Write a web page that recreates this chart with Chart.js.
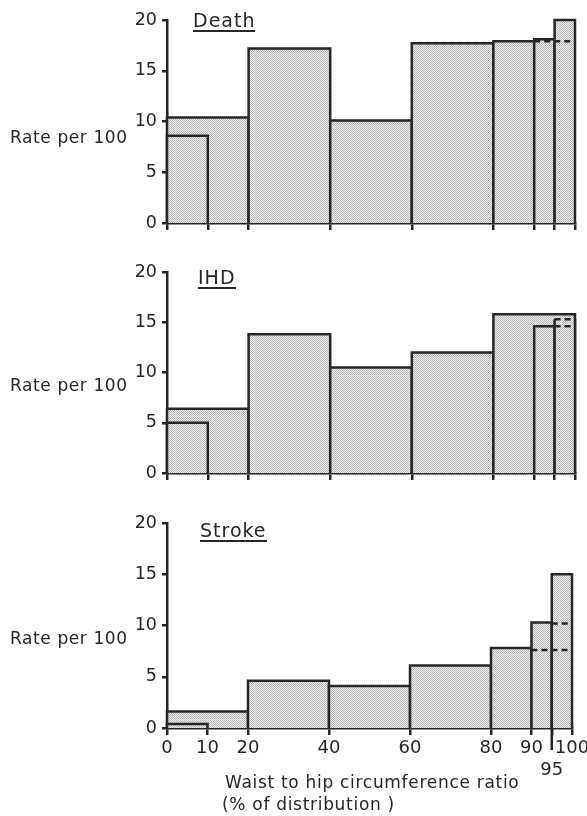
<!DOCTYPE html>
<html>
<head>
<meta charset="utf-8">
<script src="https://cdn.jsdelivr.net/npm/chart.js@4"></script>
<style>
  body { margin: 0; background: #fff; width: 587px; height: 816px; position: relative; overflow: hidden;
         font-family: "DejaVu Sans", sans-serif; color: #262626; }
  canvas { position: absolute; left: 0; }
  .ylab { position: absolute; left: 10px; font-size: 17px; line-height: 20px; letter-spacing: 0.6px; }
  .ttl { position: absolute; font-size: 19px; line-height: 19px; letter-spacing: 1px; border-bottom: 2px solid #262626; }
  .xt { position: absolute; font-size: 17px; line-height: 22px; letter-spacing: 0.7px; white-space: nowrap; }
</style>
</head>
<body>

<canvas id="deathChart" width="587" height="243" style="top:0px"></canvas>
<canvas id="ihdChart" width="587" height="243" style="top:250px"></canvas>
<canvas id="strokeChart" width="587" height="288" style="top:500px"></canvas>

<div class="ylab" style="top:127px">Rate per 100</div>
<div class="ylab" style="top:375px">Rate per 100</div>
<div class="ylab" style="top:628px">Rate per 100</div>

<div class="ttl" style="left:193px; top:11px">Death</div>
<div class="ttl" style="left:198px; top:268px">IHD</div>
<div class="ttl" style="left:200px; top:521px">Stroke</div>

<div class="xt" style="left:225px; top:771px">Waist to hip circumference ratio</div>
<div class="xt" style="left:222px; top:793px">(% of distribution )</div>

<script>
/* ---------- DATA ---------- */
const xTicks = [0, 10, 20, 40, 60, 80, 90, 95, 100];
const yTicks = [0, 5, 10, 15, 20];

// bars: lower edge, upper edge (% of distribution), rate per 100
const deathLo   = [0, 0, 20, 40, 60, 80, 90, 95];
const deathHi   = [20, 10, 40, 60, 80, 90, 95, 100];
const deathRate = [10.4, 8.6, 17.2, 10.1, 17.7, 17.9, 18.1, 20.0];
const deathDashLo = [90];
const deathDashHi = [100];
const deathDash   = [17.9];

const ihdLo   = [0, 0, 20, 40, 60, 80, 90, 95];
const ihdHi   = [20, 10, 40, 60, 80, 100, 95, 100];
const ihdRate = [6.4, 5.0, 13.8, 10.5, 12.0, 15.8, 14.6, 15.3];
const ihdDashLo = [95];
const ihdDashHi = [100];
const ihdDash   = [14.6];
const ihdDashedTop = [7];

const strokeLo   = [0, 0, 20, 40, 60, 80, 90, 95];
const strokeHi   = [20, 10, 40, 60, 80, 90, 95, 100];
const strokeRate = [1.6, 0.4, 4.6, 4.1, 6.1, 7.8, 10.3, 15.0];
const strokeDashLo = [95, 90];
const strokeDashHi = [100, 100];
const strokeDash   = [10.2, 7.6];

/* ---------- STYLE ---------- */
const INK = "#262626";
const TXT = "#262626";
const FONT = "DejaVu Sans";
const LW = 2.5;

// stipple fill, like the printed dot screen
function dotPattern() {
  const c = document.createElement("canvas");
  c.width = 2; c.height = 2;
  const g = c.getContext("2d");
  g.fillStyle = "#f3f3f3";
  g.fillRect(0, 0, 2, 2);
  g.fillStyle = "#b6b6b6";
  g.fillRect(0, 0, 1, 1);
  g.fillRect(1, 1, 1, 1);
  return g.createPattern(c, "repeat");
}
const dots = dotPattern();

// the 95 tick on the bottom panel runs down past the others
const longTick = {
  id: "longTick",
  afterDraw(chart) {
    const ctx = chart.ctx;
    const x = chart.scales.x.getPixelForValue(95);
    const y = chart.scales.y.getPixelForValue(0);
    ctx.save();
    ctx.strokeStyle = INK;
    ctx.lineWidth = LW;
    ctx.beginPath();
    ctx.moveTo(x, y);
    ctx.lineTo(x, y + 22);
    ctx.stroke();
    ctx.restore();
  }
};

function makePanel(id, p) {
  const bars = p.lo.map((l, i) => ({
    data: [
      { x: l, y: 0 }, { x: l, y: p.rate[i] },
      { x: p.hi[i], y: p.rate[i] }, { x: p.hi[i], y: 0 }
    ],
    borderColor: INK,
    borderWidth: LW,
    borderJoinStyle: "miter",
    backgroundColor: dots,
    fill: "origin",
    pointRadius: 0,
    tension: 0,
    clip: false,
    order: -i,
    segment: {
      borderDash: c => ((p.dashedTop || []).includes(i) && c.p0DataIndex === 1) ? [6, 4] : undefined
    }
  }));

  const dashes = p.dLo.map((l, i) => ({
    data: [{ x: l, y: p.dRate[i] }, { x: p.dHi[i], y: p.dRate[i] }],
    borderColor: INK,
    borderWidth: LW,
    borderDash: [6, 4],
    fill: false,
    pointRadius: 0,
    clip: false,
    order: -100 - i
  }));

  return new Chart(document.getElementById(id), {
    type: "line",
    data: { datasets: bars.concat(dashes) },
    plugins: p.labels ? [longTick] : [],
    options: {
      responsive: false,
      animation: false,
      layout: { padding: { left: 0, right: 587 - p.right, top: p.padTop, bottom: 0 } },
      plugins: { legend: { display: false }, tooltip: { enabled: false } },
      scales: {
        x: {
          type: "linear",
          min: 0,
          max: 100,
          afterBuildTicks: s => { s.ticks = xTicks.map(v => ({ value: v })); },
          afterFit: s => { s.height = p.axisH; s.paddingLeft = 0; s.paddingRight = 0; },
          border: { display: true, color: INK, width: LW },
          grid: { display: true, drawOnChartArea: false, tickLength: 7, color: INK, lineWidth: LW },
          ticks: {
            display: p.labels,
            autoSkip: false,
            maxRotation: 0,
            padding: 3,
            color: TXT,
            font: { family: FONT, size: 18 },
            callback: v => (v === 95 ? ["", "95"] : String(v))
          }
        },
        y: {
          min: 0,
          max: 20,
          afterBuildTicks: s => { s.ticks = yTicks.map(v => ({ value: v })); },
          afterFit: s => { s.width = 167; s.paddingTop = 0; s.paddingBottom = 0; },
          border: { display: true, color: INK, width: LW },
          grid: { display: true, drawOnChartArea: false, tickLength: 5, color: INK, lineWidth: LW },
          ticks: { padding: 5, color: TXT, font: { family: FONT, size: 17.5 } }
        }
      }
    }
  });
}

makePanel("deathChart", {
  lo: deathLo, hi: deathHi, rate: deathRate,
  dLo: deathDashLo, dHi: deathDashHi, dRate: deathDash,
  padTop: 20, axisH: 20, right: 575, labels: false
});
makePanel("ihdChart", {
  lo: ihdLo, hi: ihdHi, rate: ihdRate,
  dLo: ihdDashLo, dHi: ihdDashHi, dRate: ihdDash, dashedTop: ihdDashedTop,
  padTop: 22, axisH: 20, right: 575, labels: false
});
makePanel("strokeChart", {
  lo: strokeLo, hi: strokeHi, rate: strokeRate,
  dLo: strokeDashLo, dHi: strokeDashHi, dRate: strokeDash,
  padTop: 23, axisH: 60, right: 572, labels: true
});
</script>
</body>
</html>
